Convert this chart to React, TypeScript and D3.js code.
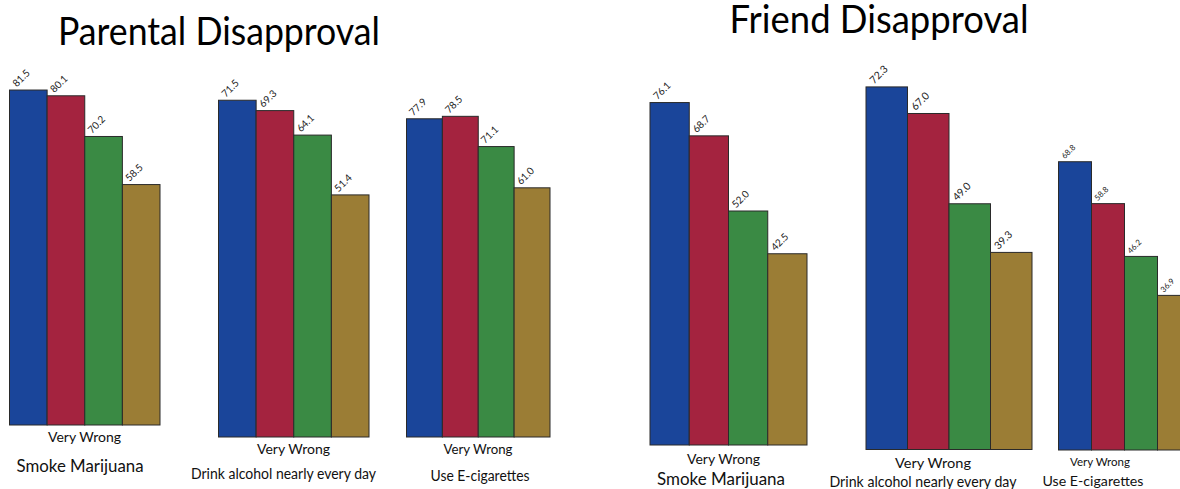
import React from "react";
import * as d3 from "d3";

// Survey values (percent saying "Very Wrong"), four cohorts per behaviour
const behaviours = ["Smoke Marijuana", "Drink alcohol nearly every day", "Use E-cigarettes"];
const cohorts = ["c1", "c2", "c3", "c4"];
const responseLabel = "Very Wrong";

const parentalSmoke = [81.5, 80.1, 70.2, 58.5];
const parentalDrink = [71.5, 69.3, 64.1, 51.4];
const parentalVape = [77.9, 78.5, 71.1, 61.0];

const friendSmoke = [76.1, 68.7, 52.0, 42.5];
const friendDrink = [72.3, 67.0, 49.0, 39.3];
const friendVape = [68.8, 58.8, 46.2, 36.9];

const titles = ["Parental Disapproval", "Friend Disapproval"];

const colors = ["#1a459a", "#a4233f", "#3a8a44", "#9b7d35"];

// Layout of each small chart: band extent, baseline, pixels per percentage point, label placement
type Panel = {
  values: number[];
  name: string;
  x0: number;
  x1: number;
  base: number;
  k: number;
  vSize: number;
  vwX: number;
  vwY: number;
  vwSize: number;
  vwLen: number;
  catX: number;
  catY: number;
  catSize: number;
  catLen: number;
};

const panels: Panel[] = [
  { values: parentalSmoke, name: behaviours[0], x0: 9.5, x1: 160, base: 425, k: 4.11, vSize: 10,
    vwX: 84.5, vwY: 442, vwSize: 13, vwLen: 73, catX: 80, catY: 472, catSize: 17, catLen: 127 },
  { values: parentalDrink, name: behaviours[1], x0: 218.5, x1: 369, base: 437, k: 4.71, vSize: 10,
    vwX: 293.5, vwY: 454, vwSize: 13, vwLen: 73, catX: 283.5, catY: 479, catSize: 14.5, catLen: 185 },
  { values: parentalVape, name: behaviours[2], x0: 406.5, x1: 550, base: 437, k: 4.085, vSize: 10,
    vwX: 478, vwY: 454, vwSize: 12.5, vwLen: 69, catX: 480, catY: 481, catSize: 15.5, catLen: 99 },
  { values: friendSmoke, name: behaviours[0], x0: 650, x1: 807, base: 445, k: 4.5, vSize: 10,
    vwX: 723.5, vwY: 463.5, vwSize: 13, vwLen: 73, catX: 721, catY: 485, catSize: 17, catLen: 128 },
  { values: friendDrink, name: behaviours[1], x0: 866, x1: 1032, base: 449.5, k: 5.015, vSize: 10.5,
    vwX: 933, vwY: 468, vwSize: 14, vwLen: 76, catX: 923, catY: 487, catSize: 15, catLen: 187 },
  { values: friendVape, name: behaviours[2], x0: 1058.5, x1: 1190.5, base: 450, k: 4.19, vSize: 8,
    vwX: 1100, vwY: 465.5, vwSize: 11, vwLen: 60, catX: 1093, catY: 486, catSize: 14, catLen: 101 },
];

const labelFont = "Lato, 'Open Sans', sans-serif";
const catFont = "Lato, 'Open Sans', sans-serif";

function SmallChart({ p }: { p: Panel }) {
  const x = d3.scaleBand<string>().domain(cohorts).range([p.x0, p.x1]).padding(0);
  const y = d3.scaleLinear().domain([0, 100]).range([p.base, p.base - 100 * p.k]);
  const fmt = d3.format(".1f");
  return (
    <g>
      {p.values.map((v, i) => {
        const bx = x(cohorts[i])!;
        const top = y(v);
        return (
          <g key={i}>
            <rect
              x={bx}
              y={top}
              width={x.bandwidth()}
              height={y(0) - top}
              fill={colors[i]}
              stroke="#2a2a2a"
              strokeWidth={1}
            />
            <text
              transform={`translate(${bx + x.bandwidth() * 0.19},${top - 2.5}) rotate(-45)`}
              fontFamily={labelFont}
              fontSize={p.vSize}
              fill="#222"
            >
              {fmt(v)}
            </text>
          </g>
        );
      })}
      <text
        x={p.vwX}
        y={p.vwY}
        textAnchor="middle"
        fontFamily={labelFont}
        fontSize={p.vwSize}
        fill="#111"
        textLength={p.vwLen}
        lengthAdjust="spacingAndGlyphs"
      >
        {responseLabel}
      </text>
      <text
        x={p.catX}
        y={p.catY}
        textAnchor="middle"
        fontFamily={catFont}
        fontSize={p.catSize}
        fill="#111"
        textLength={p.catLen}
        lengthAdjust="spacingAndGlyphs"
      >
        {p.name}
      </text>
    </g>
  );
}

export default function App() {
  return (
    <svg
      width={1180}
      height={489}
      viewBox="0 0 1180 489"
      style={{ position: "absolute", left: 0, top: 0, background: "#fff" }}
    >
      <rect x={0} y={0} width={1180} height={489} fill="#fff" />
      <text
        x={219}
        y={45}
        textAnchor="middle"
        fontFamily={catFont}
        fontSize={39}
        fill="#000"
        textLength={322}
        lengthAdjust="spacingAndGlyphs"
      >
        {titles[0]}
      </text>
      <text
        x={879}
        y={33}
        textAnchor="middle"
        fontFamily={catFont}
        fontSize={38}
        fill="#000"
        textLength={299}
        lengthAdjust="spacingAndGlyphs"
      >
        {titles[1]}
      </text>
      {panels.map((p, i) => (
        <SmallChart key={i} p={p} />
      ))}
    </svg>
  );
}
